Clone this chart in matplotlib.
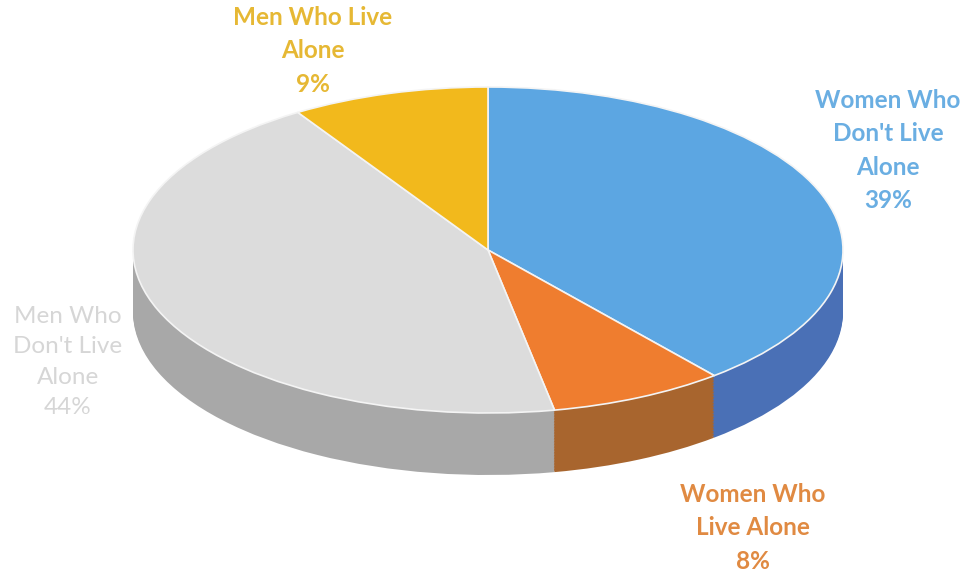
import matplotlib.pyplot as plt
import numpy as np

labels = ["Women Who\nDon't Live\nAlone", "Women Who\nLive Alone", "Men Who\nDon't Live\nAlone", "Men Who Live\nAlone"]
shares = [39, 8, 44, 9]
top_colors = ['#5ca6e2', '#ef7d2f', '#dcdcdc', '#f2b91c']
side_colors = ['#4a70b6', '#a8652e', '#a8a8a8', '#c99a20']
label_colors = ['#6aaee2', '#e08a42', '#d6d6d6', '#e6b834']
# label centres in pixels (x, y of first line)
label_pos = [(888, 103), (753, 497), (68, 320), (313, 20)]
label_weight = ['bold', 'bold', 'normal', 'bold']

W, H = 967, 577
fig = plt.figure(figsize=(W / 100, H / 100), dpi=100)
ax = fig.add_axes([0, 0, 1, 1])

# pie top ellipse: centre (488, 250) px, radii 355 x 163 px
cx, cy, rx, ry = 488, 250, 355, 163
depth = 62 / ry
n_layers = 40
for k in range(n_layers, 0, -1):
    ax.pie(shares, colors=side_colors, startangle=90, counterclock=False,
           center=(0, -depth * k / n_layers), radius=1,
           wedgeprops={'linewidth': 0})
ax.pie(shares, colors=top_colors, startangle=90, counterclock=False,
       center=(0, 0), radius=1,
       wedgeprops={'linewidth': 1.2, 'edgecolor': '#f4f4f4'})

ax.set_aspect('auto')
ax.set_xlim(-cx / rx, (W - cx) / rx)
ax.set_ylim(-(H - cy) / ry, cy / ry)
ax.axis('off')

for lab, s, col, (px, py), wt in zip(labels, shares, label_colors, label_pos, label_weight):
    fig.text(px / W, 1 - (py - 14) / H, f"{lab}\n{s}%", color=col, fontsize=17.5,
             fontweight=wt, family='Lato', ha='center', va='top', linespacing=1.55)

fig.savefig('out.png', dpi=100)
